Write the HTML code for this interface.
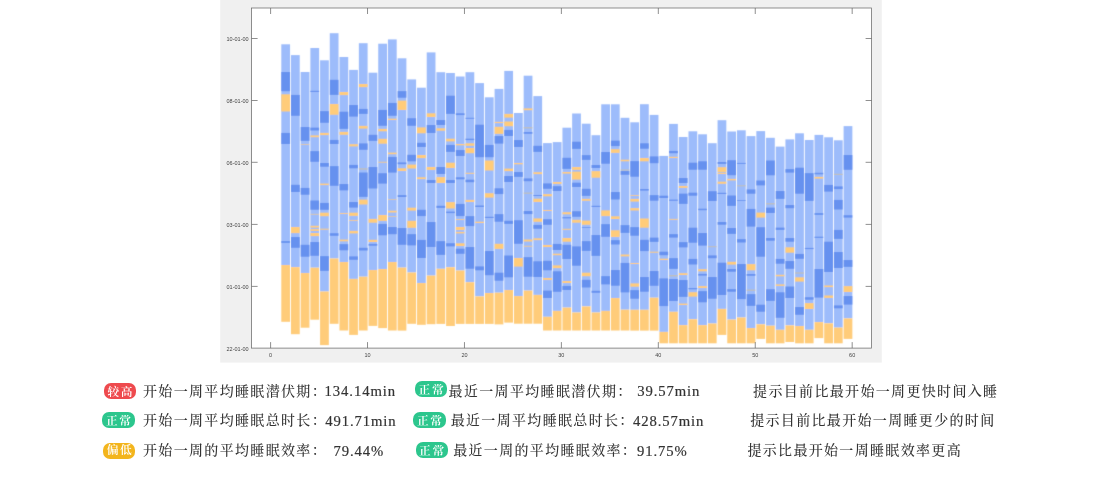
<!DOCTYPE html>
<html lang="zh-CN">
<head>
<meta charset="utf-8">
<title>睡眠报告</title>
<style>
html,body{margin:0;padding:0;background:#fff;}
body{width:1098px;height:488px;position:relative;overflow:hidden;font-family:"Liberation Serif","Noto Serif CJK SC",serif;color:#333;}
.chart{position:absolute;left:0;top:0;display:block;}
.t{position:absolute;white-space:pre;font-weight:500;font-size:14px;letter-spacing:1.33px;line-height:20px;height:20px;}
.b{position:absolute;box-sizing:border-box;height:16px;width:32.2px;border-radius:7px;color:#fff;font-weight:600;font-size:11.7px;letter-spacing:1.6px;padding-left:1.6px;padding-top:1.7px;line-height:16px;text-align:center;white-space:nowrap;}
.r{background:#ee4a4e;}
.g{background:#2cc68d;}
.y{background:#f3b51d;}
.n{position:absolute;margin-top:-0.5px;-webkit-text-stroke:0.2px #333;white-space:pre;font-size:14.7px;letter-spacing:0.9px;line-height:20px;height:20px;}
</style>
</head>
<body>
<svg class="chart" width="1098" height="488" viewBox="0 0 1098 488">
<rect x="220.2" y="0" width="661.6" height="362.6" fill="#f0f0f0"/>
<rect x="251.6" y="8.0" width="620" height="340.1" fill="#fff"/>
<defs><filter id="sf" x="-2%" y="-2%" width="104%" height="104%"><feConvolveMatrix order="3" kernelMatrix="0.0144 0.0912 0.0144 0.0912 0.5776 0.0912 0.0144 0.0912 0.0144" divisor="1" edgeMode="none" preserveAlpha="false"/></filter></defs>
<g filter="url(#sf)">
<rect x="281.3" y="44.3" width="8.75" height="220.7" fill="#9dbcfb"/>
<rect x="281.3" y="265" width="8.75" height="56.8" fill="#ffcc7a"/>
<rect x="281.3" y="72" width="8.75" height="19.2" fill="#6691ef"/>
<rect x="281.3" y="94.3" width="8.75" height="17.2" fill="#ffcc7a"/>
<rect x="281.3" y="132.9" width="8.75" height="11.1" fill="#6691ef"/>
<rect x="281.3" y="241.1" width="8.75" height="1.8" fill="#6691ef"/>
<rect x="290.99" y="55.1" width="8.75" height="212" fill="#9dbcfb"/>
<rect x="290.99" y="267.1" width="8.75" height="67.1" fill="#ffcc7a"/>
<rect x="290.99" y="94.9" width="8.75" height="20.9" fill="#6691ef"/>
<rect x="290.99" y="184.8" width="8.75" height="7.2" fill="#6691ef"/>
<rect x="290.99" y="227" width="8.75" height="6.1" fill="#ffcc7a"/>
<rect x="290.99" y="237" width="8.75" height="10.8" fill="#6691ef"/>
<rect x="300.69" y="72" width="8.75" height="201" fill="#9dbcfb"/>
<rect x="300.69" y="273" width="8.75" height="54.7" fill="#ffcc7a"/>
<rect x="300.69" y="127" width="8.75" height="13.9" fill="#6691ef"/>
<rect x="300.69" y="144.2" width="8.75" height="0.6" fill="#ffcc7a"/>
<rect x="300.69" y="187.9" width="8.75" height="6.8" fill="#6691ef"/>
<rect x="300.69" y="244.8" width="8.75" height="11.9" fill="#6691ef"/>
<rect x="310.38" y="48" width="8.75" height="219.7" fill="#9dbcfb"/>
<rect x="310.38" y="267.7" width="8.75" height="52" fill="#ffcc7a"/>
<rect x="310.38" y="90.8" width="8.75" height="1.2" fill="#6691ef"/>
<rect x="310.38" y="127.6" width="8.75" height="2.9" fill="#6691ef"/>
<rect x="310.38" y="135.4" width="8.75" height="1.8" fill="#ffcc7a"/>
<rect x="310.38" y="151.1" width="8.75" height="10.7" fill="#6691ef"/>
<rect x="310.38" y="200.5" width="8.75" height="9.2" fill="#6691ef"/>
<rect x="310.38" y="213.9" width="8.75" height="0.6" fill="#ffcc7a"/>
<rect x="310.38" y="225.8" width="8.75" height="1.8" fill="#ffcc7a"/>
<rect x="310.38" y="229.1" width="8.75" height="1.8" fill="#ffcc7a"/>
<rect x="310.38" y="233" width="8.75" height="3.1" fill="#ffcc7a"/>
<rect x="310.38" y="242" width="8.75" height="13.8" fill="#6691ef"/>
<rect x="320.08" y="60.3" width="8.75" height="231.2" fill="#9dbcfb"/>
<rect x="320.08" y="291.5" width="8.75" height="53.6" fill="#ffcc7a"/>
<rect x="320.08" y="111.1" width="8.75" height="11.7" fill="#6691ef"/>
<rect x="320.08" y="132.9" width="8.75" height="2.2" fill="#ffcc7a"/>
<rect x="320.08" y="163" width="8.75" height="3.7" fill="#6691ef"/>
<rect x="320.08" y="183.6" width="8.75" height="1.5" fill="#ffcc7a"/>
<rect x="320.08" y="202.9" width="8.75" height="6.9" fill="#6691ef"/>
<rect x="320.08" y="212.7" width="8.75" height="3.5" fill="#ffcc7a"/>
<rect x="320.08" y="228.7" width="8.75" height="1" fill="#ffcc7a"/>
<rect x="320.08" y="256.1" width="8.75" height="14.8" fill="#6691ef"/>
<rect x="329.77" y="33.2" width="8.75" height="225.3" fill="#9dbcfb"/>
<rect x="329.77" y="258.5" width="8.75" height="65.3" fill="#ffcc7a"/>
<rect x="329.77" y="79.8" width="8.75" height="15.1" fill="#6691ef"/>
<rect x="329.77" y="104" width="8.75" height="10.8" fill="#ffcc7a"/>
<rect x="329.77" y="139.9" width="8.75" height="4.1" fill="#6691ef"/>
<rect x="329.77" y="166.1" width="8.75" height="19.7" fill="#6691ef"/>
<rect x="329.77" y="233.2" width="8.75" height="2.6" fill="#6691ef"/>
<rect x="339.47" y="57" width="8.75" height="205" fill="#9dbcfb"/>
<rect x="339.47" y="262" width="8.75" height="68.5" fill="#ffcc7a"/>
<rect x="339.47" y="92" width="8.75" height="3.1" fill="#ffcc7a"/>
<rect x="339.47" y="111.7" width="8.75" height="17.2" fill="#6691ef"/>
<rect x="339.47" y="131.9" width="8.75" height="2.9" fill="#ffcc7a"/>
<rect x="339.47" y="184" width="8.75" height="6.4" fill="#6691ef"/>
<rect x="339.47" y="213.1" width="8.75" height="0.9" fill="#ffcc7a"/>
<rect x="339.47" y="239.6" width="8.75" height="1.7" fill="#ffcc7a"/>
<rect x="339.47" y="244.1" width="8.75" height="6.2" fill="#6691ef"/>
<rect x="349.16" y="69.9" width="8.75" height="209" fill="#9dbcfb"/>
<rect x="349.16" y="278.9" width="8.75" height="56" fill="#ffcc7a"/>
<rect x="349.16" y="105" width="8.75" height="11.6" fill="#6691ef"/>
<rect x="349.16" y="144.2" width="8.75" height="2.2" fill="#ffcc7a"/>
<rect x="349.16" y="164.9" width="8.75" height="3.4" fill="#6691ef"/>
<rect x="349.16" y="202" width="8.75" height="5.6" fill="#6691ef"/>
<rect x="349.16" y="212.7" width="8.75" height="3.2" fill="#ffcc7a"/>
<rect x="349.16" y="220.1" width="8.75" height="0.8" fill="#ffcc7a"/>
<rect x="349.16" y="230.9" width="8.75" height="2.5" fill="#ffcc7a"/>
<rect x="349.16" y="256.4" width="8.75" height="3.4" fill="#6691ef"/>
<rect x="358.86" y="43.2" width="8.75" height="233.5" fill="#9dbcfb"/>
<rect x="358.86" y="276.7" width="8.75" height="53.8" fill="#ffcc7a"/>
<rect x="358.86" y="84" width="8.75" height="3.1" fill="#ffcc7a"/>
<rect x="358.86" y="108.9" width="8.75" height="5" fill="#6691ef"/>
<rect x="358.86" y="125.9" width="8.75" height="2.7" fill="#ffcc7a"/>
<rect x="358.86" y="143.4" width="8.75" height="6.4" fill="#6691ef"/>
<rect x="358.86" y="168.3" width="8.75" height="1.3" fill="#c4bfb4"/>
<rect x="358.86" y="172.5" width="8.75" height="24.4" fill="#6691ef"/>
<rect x="358.86" y="199.6" width="8.75" height="4.9" fill="#ffcc7a"/>
<rect x="358.86" y="247.8" width="8.75" height="2.7" fill="#6691ef"/>
<rect x="368.55" y="72.7" width="8.75" height="197.3" fill="#9dbcfb"/>
<rect x="368.55" y="270" width="8.75" height="55.9" fill="#ffcc7a"/>
<rect x="368.55" y="134.8" width="8.75" height="6.1" fill="#6691ef"/>
<rect x="368.55" y="167" width="8.75" height="21.5" fill="#6691ef"/>
<rect x="368.55" y="218.9" width="8.75" height="3.8" fill="#ffcc7a"/>
<rect x="368.55" y="239.8" width="8.75" height="2.2" fill="#ffcc7a"/>
<rect x="368.55" y="243.9" width="8.75" height="1.8" fill="#6691ef"/>
<rect x="378.25" y="43.7" width="8.75" height="225.3" fill="#9dbcfb"/>
<rect x="378.25" y="269" width="8.75" height="59.1" fill="#ffcc7a"/>
<rect x="378.25" y="109.9" width="8.75" height="15.9" fill="#6691ef"/>
<rect x="378.25" y="128.9" width="8.75" height="2.4" fill="#ffcc7a"/>
<rect x="378.25" y="138.8" width="8.75" height="4.9" fill="#ffcc7a"/>
<rect x="378.25" y="161.8" width="8.75" height="0.8" fill="#ffcc7a"/>
<rect x="378.25" y="173.2" width="8.75" height="10.4" fill="#6691ef"/>
<rect x="378.25" y="215" width="8.75" height="5.9" fill="#ffcc7a"/>
<rect x="378.25" y="223.9" width="8.75" height="11.4" fill="#6691ef"/>
<rect x="387.94" y="39.4" width="8.75" height="222.6" fill="#9dbcfb"/>
<rect x="387.94" y="262" width="8.75" height="68.5" fill="#ffcc7a"/>
<rect x="387.94" y="102.9" width="8.75" height="12.9" fill="#6691ef"/>
<rect x="387.94" y="118.7" width="8.75" height="1.3" fill="#ffcc7a"/>
<rect x="387.94" y="152.6" width="8.75" height="1.6" fill="#ffcc7a"/>
<rect x="387.94" y="156.9" width="8.75" height="15.7" fill="#6691ef"/>
<rect x="387.94" y="199.3" width="8.75" height="0.6" fill="#ffcc7a"/>
<rect x="387.94" y="210.7" width="8.75" height="1.8" fill="#ffcc7a"/>
<rect x="387.94" y="216.1" width="8.75" height="0.6" fill="#ffcc7a"/>
<rect x="387.94" y="227" width="8.75" height="7.2" fill="#6691ef"/>
<rect x="397.63" y="58.3" width="8.75" height="209.3" fill="#9dbcfb"/>
<rect x="397.63" y="267.6" width="8.75" height="63" fill="#ffcc7a"/>
<rect x="397.63" y="91.1" width="8.75" height="6.6" fill="#6691ef"/>
<rect x="397.63" y="100.6" width="8.75" height="9.4" fill="#ffcc7a"/>
<rect x="397.63" y="162.4" width="8.75" height="1.8" fill="#6691ef"/>
<rect x="397.63" y="168.3" width="8.75" height="2.7" fill="#ffcc7a"/>
<rect x="397.63" y="195.1" width="8.75" height="1.9" fill="#6691ef"/>
<rect x="397.63" y="228" width="8.75" height="16.8" fill="#6691ef"/>
<rect x="407.33" y="79.4" width="8.75" height="193.1" fill="#9dbcfb"/>
<rect x="407.33" y="272.5" width="8.75" height="51.3" fill="#ffcc7a"/>
<rect x="407.33" y="118.2" width="8.75" height="7.6" fill="#6691ef"/>
<rect x="407.33" y="154.8" width="8.75" height="6.5" fill="#6691ef"/>
<rect x="407.33" y="164.6" width="8.75" height="3.9" fill="#ffcc7a"/>
<rect x="407.33" y="207.7" width="8.75" height="2.9" fill="#ffcc7a"/>
<rect x="407.33" y="220.8" width="8.75" height="7" fill="#ffcc7a"/>
<rect x="407.33" y="234.1" width="8.75" height="11.3" fill="#6691ef"/>
<rect x="417.03" y="87.7" width="8.75" height="195.3" fill="#9dbcfb"/>
<rect x="417.03" y="283" width="8.75" height="41.8" fill="#ffcc7a"/>
<rect x="417.03" y="127.4" width="8.75" height="5.9" fill="#ffcc7a"/>
<rect x="417.03" y="142.8" width="8.75" height="4.2" fill="#6691ef"/>
<rect x="417.03" y="155" width="8.75" height="3.1" fill="#ffcc7a"/>
<rect x="417.03" y="177.3" width="8.75" height="1.8" fill="#ffcc7a"/>
<rect x="417.03" y="209.8" width="8.75" height="6.3" fill="#6691ef"/>
<rect x="417.03" y="239.9" width="8.75" height="18.1" fill="#6691ef"/>
<rect x="426.72" y="52.4" width="8.75" height="223.2" fill="#9dbcfb"/>
<rect x="426.72" y="275.6" width="8.75" height="48.6" fill="#ffcc7a"/>
<rect x="426.72" y="113.3" width="8.75" height="3.7" fill="#ffcc7a"/>
<rect x="426.72" y="125" width="8.75" height="8" fill="#6691ef"/>
<rect x="426.72" y="167" width="8.75" height="2.9" fill="#ffcc7a"/>
<rect x="426.72" y="180" width="8.75" height="3" fill="#6691ef"/>
<rect x="426.72" y="222" width="8.75" height="25" fill="#6691ef"/>
<rect x="436.42" y="72.2" width="8.75" height="196.6" fill="#9dbcfb"/>
<rect x="436.42" y="268.8" width="8.75" height="55.1" fill="#ffcc7a"/>
<rect x="436.42" y="120" width="8.75" height="5" fill="#6691ef"/>
<rect x="436.42" y="128.3" width="8.75" height="2.4" fill="#ffcc7a"/>
<rect x="436.42" y="167" width="8.75" height="7" fill="#6691ef"/>
<rect x="436.42" y="177.1" width="8.75" height="5.9" fill="#ffcc7a"/>
<rect x="436.42" y="205.8" width="8.75" height="2.1" fill="#6691ef"/>
<rect x="436.42" y="241.1" width="8.75" height="13.8" fill="#6691ef"/>
<rect x="446.11" y="73" width="8.75" height="194.2" fill="#9dbcfb"/>
<rect x="446.11" y="267.2" width="8.75" height="58.8" fill="#ffcc7a"/>
<rect x="446.11" y="95.7" width="8.75" height="18.2" fill="#6691ef"/>
<rect x="446.11" y="138.7" width="8.75" height="2.7" fill="#ffcc7a"/>
<rect x="446.11" y="144.9" width="8.75" height="7" fill="#6691ef"/>
<rect x="446.11" y="162.7" width="8.75" height="5.3" fill="#ffcc7a"/>
<rect x="446.11" y="180" width="8.75" height="3" fill="#6691ef"/>
<rect x="446.11" y="202.1" width="8.75" height="6.4" fill="#ffcc7a"/>
<rect x="446.11" y="211.6" width="8.75" height="1.5" fill="#6691ef"/>
<rect x="446.11" y="243.2" width="8.75" height="3.2" fill="#6691ef"/>
<rect x="455.81" y="76.5" width="8.75" height="194" fill="#9dbcfb"/>
<rect x="455.81" y="270.5" width="8.75" height="53.4" fill="#ffcc7a"/>
<rect x="455.81" y="113.3" width="8.75" height="1.8" fill="#6691ef"/>
<rect x="455.81" y="144" width="8.75" height="1.3" fill="#ffcc7a"/>
<rect x="455.81" y="150" width="8.75" height="6" fill="#6691ef"/>
<rect x="455.81" y="177.3" width="8.75" height="2" fill="#6691ef"/>
<rect x="455.81" y="203.9" width="8.75" height="12.2" fill="#6691ef"/>
<rect x="455.81" y="219.2" width="8.75" height="0.8" fill="#ffcc7a"/>
<rect x="455.81" y="227" width="8.75" height="3" fill="#ffcc7a"/>
<rect x="455.81" y="231.9" width="8.75" height="1.5" fill="#ffcc7a"/>
<rect x="455.81" y="243.3" width="8.75" height="2.7" fill="#ffcc7a"/>
<rect x="455.81" y="248.7" width="8.75" height="5.1" fill="#6691ef"/>
<rect x="465.5" y="72.2" width="8.75" height="210" fill="#9dbcfb"/>
<rect x="465.5" y="282.2" width="8.75" height="41.7" fill="#ffcc7a"/>
<rect x="465.5" y="117.8" width="8.75" height="1" fill="#6691ef"/>
<rect x="465.5" y="138.7" width="8.75" height="1.4" fill="#6691ef"/>
<rect x="465.5" y="143.3" width="8.75" height="2.5" fill="#ffcc7a"/>
<rect x="465.5" y="148" width="8.75" height="5.2" fill="#ffcc7a"/>
<rect x="465.5" y="172.8" width="8.75" height="1" fill="#ffcc7a"/>
<rect x="465.5" y="179.7" width="8.75" height="2.5" fill="#6691ef"/>
<rect x="465.5" y="199.9" width="8.75" height="2.1" fill="#ffcc7a"/>
<rect x="465.5" y="216.1" width="8.75" height="10" fill="#6691ef"/>
<rect x="465.5" y="247" width="8.75" height="21.7" fill="#6691ef"/>
<rect x="475.2" y="83.1" width="8.75" height="213.3" fill="#9dbcfb"/>
<rect x="475.2" y="296.4" width="8.75" height="27.5" fill="#ffcc7a"/>
<rect x="475.2" y="124.7" width="8.75" height="32.5" fill="#6691ef"/>
<rect x="475.2" y="205.5" width="8.75" height="1.5" fill="#6691ef"/>
<rect x="475.2" y="221.7" width="8.75" height="1.3" fill="#ffcc7a"/>
<rect x="475.2" y="266.4" width="8.75" height="3.9" fill="#6691ef"/>
<rect x="484.89" y="97.3" width="8.75" height="195.7" fill="#9dbcfb"/>
<rect x="484.89" y="293" width="8.75" height="30.9" fill="#ffcc7a"/>
<rect x="484.89" y="144.9" width="8.75" height="12.3" fill="#6691ef"/>
<rect x="484.89" y="160.5" width="8.75" height="10" fill="#ffcc7a"/>
<rect x="484.89" y="193.2" width="8.75" height="4.4" fill="#ffcc7a"/>
<rect x="484.89" y="216.8" width="8.75" height="1.2" fill="#6691ef"/>
<rect x="484.89" y="251" width="8.75" height="24.2" fill="#6691ef"/>
<rect x="494.59" y="88.9" width="8.75" height="203.8" fill="#9dbcfb"/>
<rect x="494.59" y="292.7" width="8.75" height="31.7" fill="#ffcc7a"/>
<rect x="494.59" y="121.9" width="8.75" height="1.2" fill="#ffcc7a"/>
<rect x="494.59" y="126.8" width="8.75" height="7.1" fill="#ffcc7a"/>
<rect x="494.59" y="136" width="8.75" height="7.6" fill="#6691ef"/>
<rect x="494.59" y="188.3" width="8.75" height="5.8" fill="#6691ef"/>
<rect x="494.59" y="214.1" width="8.75" height="7.6" fill="#6691ef"/>
<rect x="494.59" y="243.8" width="8.75" height="5.1" fill="#ffcc7a"/>
<rect x="494.59" y="272.7" width="8.75" height="8" fill="#6691ef"/>
<rect x="504.28" y="70.9" width="8.75" height="219.1" fill="#9dbcfb"/>
<rect x="504.28" y="290" width="8.75" height="32.6" fill="#ffcc7a"/>
<rect x="504.28" y="113.9" width="8.75" height="3.7" fill="#ffcc7a"/>
<rect x="504.28" y="121.5" width="8.75" height="4.7" fill="#ffcc7a"/>
<rect x="504.28" y="129.9" width="8.75" height="6.1" fill="#6691ef"/>
<rect x="504.28" y="168.6" width="8.75" height="2.5" fill="#ffcc7a"/>
<rect x="504.28" y="176" width="8.75" height="6" fill="#6691ef"/>
<rect x="504.28" y="220.8" width="8.75" height="3.1" fill="#6691ef"/>
<rect x="504.28" y="255.5" width="8.75" height="21.8" fill="#6691ef"/>
<rect x="513.98" y="113" width="8.75" height="183" fill="#9dbcfb"/>
<rect x="513.98" y="296" width="8.75" height="27.7" fill="#ffcc7a"/>
<rect x="513.98" y="140" width="8.75" height="7" fill="#6691ef"/>
<rect x="513.98" y="163" width="8.75" height="1.3" fill="#ffcc7a"/>
<rect x="513.98" y="172" width="8.75" height="4.9" fill="#6691ef"/>
<rect x="513.98" y="220.2" width="8.75" height="23.6" fill="#6691ef"/>
<rect x="513.98" y="258" width="8.75" height="8.6" fill="#ffcc7a"/>
<rect x="523.67" y="75.7" width="8.75" height="214.9" fill="#9dbcfb"/>
<rect x="523.67" y="290.6" width="8.75" height="33.1" fill="#ffcc7a"/>
<rect x="523.67" y="108.4" width="8.75" height="1.8" fill="#ffcc7a"/>
<rect x="523.67" y="127.2" width="8.75" height="1.2" fill="#c4bfb4"/>
<rect x="523.67" y="132" width="8.75" height="1.8" fill="#6691ef"/>
<rect x="523.67" y="178.4" width="8.75" height="2.8" fill="#6691ef"/>
<rect x="523.67" y="192.6" width="8.75" height="1.1" fill="#c4bfb4"/>
<rect x="523.67" y="211" width="8.75" height="3.1" fill="#6691ef"/>
<rect x="523.67" y="239.5" width="8.75" height="2" fill="#ffcc7a"/>
<rect x="523.67" y="245.8" width="8.75" height="0.8" fill="#ffcc7a"/>
<rect x="523.67" y="257.1" width="8.75" height="19.6" fill="#6691ef"/>
<rect x="533.37" y="96.1" width="8.75" height="198.8" fill="#9dbcfb"/>
<rect x="533.37" y="294.9" width="8.75" height="28.8" fill="#ffcc7a"/>
<rect x="533.37" y="145.8" width="8.75" height="6.1" fill="#6691ef"/>
<rect x="533.37" y="172.2" width="8.75" height="1.9" fill="#ffcc7a"/>
<rect x="533.37" y="195" width="8.75" height="1" fill="#6691ef"/>
<rect x="533.37" y="198.7" width="8.75" height="3.3" fill="#ffcc7a"/>
<rect x="533.37" y="218.4" width="8.75" height="3.4" fill="#ffcc7a"/>
<rect x="533.37" y="224.9" width="8.75" height="3.9" fill="#6691ef"/>
<rect x="533.37" y="238.3" width="8.75" height="1.8" fill="#ffcc7a"/>
<rect x="533.37" y="261.3" width="8.75" height="15.7" fill="#6691ef"/>
<rect x="543.06" y="143.1" width="8.75" height="173.7" fill="#9dbcfb"/>
<rect x="543.06" y="316.8" width="8.75" height="13.7" fill="#ffcc7a"/>
<rect x="543.06" y="183.4" width="8.75" height="5.4" fill="#6691ef"/>
<rect x="543.06" y="194.1" width="8.75" height="2.2" fill="#ffcc7a"/>
<rect x="543.06" y="210" width="8.75" height="1" fill="#ffcc7a"/>
<rect x="543.06" y="219.2" width="8.75" height="5.6" fill="#6691ef"/>
<rect x="543.06" y="245" width="8.75" height="2" fill="#ffcc7a"/>
<rect x="543.06" y="260.8" width="8.75" height="9.5" fill="#6691ef"/>
<rect x="543.06" y="278" width="8.75" height="1.9" fill="#ffcc7a"/>
<rect x="543.06" y="290.6" width="8.75" height="7.4" fill="#6691ef"/>
<rect x="552.76" y="142.1" width="8.75" height="168.8" fill="#9dbcfb"/>
<rect x="552.76" y="310.9" width="8.75" height="19.6" fill="#ffcc7a"/>
<rect x="552.76" y="182" width="8.75" height="1.9" fill="#ffcc7a"/>
<rect x="552.76" y="186.1" width="8.75" height="4.9" fill="#6691ef"/>
<rect x="552.76" y="243.9" width="8.75" height="6.1" fill="#6691ef"/>
<rect x="552.76" y="253.7" width="8.75" height="1.5" fill="#ffcc7a"/>
<rect x="552.76" y="265.4" width="8.75" height="2.7" fill="#ffcc7a"/>
<rect x="552.76" y="271.3" width="8.75" height="20.5" fill="#6691ef"/>
<rect x="562.45" y="127.7" width="8.75" height="179.9" fill="#9dbcfb"/>
<rect x="562.45" y="307.6" width="8.75" height="22.9" fill="#ffcc7a"/>
<rect x="562.45" y="157.8" width="8.75" height="11.1" fill="#6691ef"/>
<rect x="562.45" y="172" width="8.75" height="1.6" fill="#ffcc7a"/>
<rect x="562.45" y="212.2" width="8.75" height="2.1" fill="#ffcc7a"/>
<rect x="562.45" y="217.1" width="8.75" height="1.3" fill="#6691ef"/>
<rect x="562.45" y="228.8" width="8.75" height="1" fill="#ffcc7a"/>
<rect x="562.45" y="238" width="8.75" height="3.7" fill="#ffcc7a"/>
<rect x="562.45" y="244.8" width="8.75" height="14.2" fill="#6691ef"/>
<rect x="562.45" y="281" width="8.75" height="2" fill="#ffcc7a"/>
<rect x="562.45" y="285.9" width="8.75" height="4.1" fill="#6691ef"/>
<rect x="572.14" y="113.5" width="8.75" height="199" fill="#9dbcfb"/>
<rect x="572.14" y="312.5" width="8.75" height="18" fill="#ffcc7a"/>
<rect x="572.14" y="141.7" width="8.75" height="7.2" fill="#6691ef"/>
<rect x="572.14" y="167" width="8.75" height="2.9" fill="#ffcc7a"/>
<rect x="572.14" y="171.6" width="8.75" height="8" fill="#ffcc7a"/>
<rect x="572.14" y="182.7" width="8.75" height="4.3" fill="#6691ef"/>
<rect x="572.14" y="211.2" width="8.75" height="5.6" fill="#6691ef"/>
<rect x="572.14" y="219.8" width="8.75" height="2.9" fill="#ffcc7a"/>
<rect x="572.14" y="246.4" width="8.75" height="19.3" fill="#6691ef"/>
<rect x="581.84" y="123.7" width="8.75" height="182.7" fill="#9dbcfb"/>
<rect x="581.84" y="306.4" width="8.75" height="24.1" fill="#ffcc7a"/>
<rect x="581.84" y="155.1" width="8.75" height="4.8" fill="#6691ef"/>
<rect x="581.84" y="188.8" width="8.75" height="7.1" fill="#6691ef"/>
<rect x="581.84" y="198.9" width="8.75" height="1.9" fill="#ffcc7a"/>
<rect x="581.84" y="220.6" width="8.75" height="4.2" fill="#ffcc7a"/>
<rect x="581.84" y="227" width="8.75" height="0.8" fill="#6691ef"/>
<rect x="581.84" y="241.1" width="8.75" height="9.8" fill="#6691ef"/>
<rect x="581.84" y="272.7" width="8.75" height="3.5" fill="#ffcc7a"/>
<rect x="581.84" y="279.8" width="8.75" height="7.7" fill="#6691ef"/>
<rect x="591.54" y="135.2" width="8.75" height="177.3" fill="#9dbcfb"/>
<rect x="591.54" y="312.5" width="8.75" height="18" fill="#ffcc7a"/>
<rect x="591.54" y="165" width="8.75" height="3" fill="#6691ef"/>
<rect x="591.54" y="171.1" width="8.75" height="6.6" fill="#ffcc7a"/>
<rect x="591.54" y="205.8" width="8.75" height="1.2" fill="#6691ef"/>
<rect x="591.54" y="235" width="8.75" height="20.9" fill="#6691ef"/>
<rect x="591.54" y="290.8" width="8.75" height="2" fill="#6691ef"/>
<rect x="601.23" y="104.3" width="8.75" height="206.6" fill="#9dbcfb"/>
<rect x="601.23" y="310.9" width="8.75" height="19.6" fill="#ffcc7a"/>
<rect x="601.23" y="152" width="8.75" height="11.7" fill="#6691ef"/>
<rect x="601.23" y="210.4" width="8.75" height="5.7" fill="#ffcc7a"/>
<rect x="601.23" y="224.1" width="8.75" height="12.7" fill="#6691ef"/>
<rect x="601.23" y="276.1" width="8.75" height="8.3" fill="#6691ef"/>
<rect x="610.92" y="104.3" width="8.75" height="193.7" fill="#9dbcfb"/>
<rect x="610.92" y="298" width="8.75" height="32.5" fill="#ffcc7a"/>
<rect x="610.92" y="140.6" width="8.75" height="5.5" fill="#6691ef"/>
<rect x="610.92" y="149.2" width="8.75" height="3.7" fill="#ffcc7a"/>
<rect x="610.92" y="192" width="8.75" height="7.5" fill="#6691ef"/>
<rect x="610.92" y="216.3" width="8.75" height="2.7" fill="#ffcc7a"/>
<rect x="610.92" y="230.3" width="8.75" height="6.7" fill="#ffcc7a"/>
<rect x="610.92" y="240.1" width="8.75" height="4.4" fill="#6691ef"/>
<rect x="610.92" y="270" width="8.75" height="15.7" fill="#6691ef"/>
<rect x="620.62" y="117.8" width="8.75" height="191.9" fill="#9dbcfb"/>
<rect x="620.62" y="309.7" width="8.75" height="20.8" fill="#ffcc7a"/>
<rect x="620.62" y="159.7" width="8.75" height="1.6" fill="#ffcc7a"/>
<rect x="620.62" y="169.5" width="8.75" height="1" fill="#c4bfb4"/>
<rect x="620.62" y="171" width="8.75" height="3.8" fill="#6691ef"/>
<rect x="620.62" y="225.1" width="8.75" height="7.8" fill="#6691ef"/>
<rect x="620.62" y="254.5" width="8.75" height="1.9" fill="#ffcc7a"/>
<rect x="620.62" y="262.9" width="8.75" height="29.5" fill="#6691ef"/>
<rect x="630.32" y="122.3" width="8.75" height="187.5" fill="#9dbcfb"/>
<rect x="630.32" y="309.8" width="8.75" height="20.8" fill="#ffcc7a"/>
<rect x="630.32" y="161.1" width="8.75" height="15.6" fill="#6691ef"/>
<rect x="630.32" y="195.1" width="8.75" height="0.8" fill="#ffcc7a"/>
<rect x="630.32" y="198.9" width="8.75" height="2.7" fill="#ffcc7a"/>
<rect x="630.32" y="208.1" width="8.75" height="2.4" fill="#ffcc7a"/>
<rect x="630.32" y="227.1" width="8.75" height="8.6" fill="#6691ef"/>
<rect x="630.32" y="263" width="8.75" height="1" fill="#ffcc7a"/>
<rect x="630.32" y="283.4" width="8.75" height="3.3" fill="#ffcc7a"/>
<rect x="630.32" y="290.1" width="8.75" height="8.6" fill="#6691ef"/>
<rect x="640.01" y="104.2" width="8.75" height="205.6" fill="#9dbcfb"/>
<rect x="640.01" y="309.8" width="8.75" height="20.8" fill="#ffcc7a"/>
<rect x="640.01" y="143.3" width="8.75" height="5.4" fill="#6691ef"/>
<rect x="640.01" y="158" width="8.75" height="3.3" fill="#ffcc7a"/>
<rect x="640.01" y="189" width="8.75" height="1.6" fill="#6691ef"/>
<rect x="640.01" y="218.5" width="8.75" height="9.2" fill="#ffcc7a"/>
<rect x="640.01" y="239.8" width="8.75" height="11.3" fill="#6691ef"/>
<rect x="640.01" y="277" width="8.75" height="14.7" fill="#6691ef"/>
<rect x="649.71" y="114.9" width="8.75" height="182.8" fill="#9dbcfb"/>
<rect x="649.71" y="297.7" width="8.75" height="32.9" fill="#ffcc7a"/>
<rect x="649.71" y="156.4" width="8.75" height="6.8" fill="#6691ef"/>
<rect x="649.71" y="195.1" width="8.75" height="5.6" fill="#6691ef"/>
<rect x="649.71" y="237.6" width="8.75" height="4.3" fill="#6691ef"/>
<rect x="649.71" y="251.7" width="8.75" height="1" fill="#ffcc7a"/>
<rect x="649.71" y="271" width="8.75" height="14.8" fill="#6691ef"/>
<rect x="659.4" y="155.9" width="8.75" height="176" fill="#9dbcfb"/>
<rect x="659.4" y="331.9" width="8.75" height="11.4" fill="#ffcc7a"/>
<rect x="659.4" y="195.7" width="8.75" height="2.3" fill="#6691ef"/>
<rect x="659.4" y="251.7" width="8.75" height="3.5" fill="#6691ef"/>
<rect x="659.4" y="258.7" width="8.75" height="1.3" fill="#ffcc7a"/>
<rect x="659.4" y="278.4" width="8.75" height="27.7" fill="#6691ef"/>
<rect x="669.1" y="123.9" width="8.75" height="187.9" fill="#9dbcfb"/>
<rect x="669.1" y="311.8" width="8.75" height="31.5" fill="#ffcc7a"/>
<rect x="669.1" y="150.9" width="8.75" height="2.3" fill="#6691ef"/>
<rect x="669.1" y="156.8" width="8.75" height="1.2" fill="#ffcc7a"/>
<rect x="669.1" y="199.6" width="8.75" height="1.2" fill="#6691ef"/>
<rect x="669.1" y="218.9" width="8.75" height="0.9" fill="#ffcc7a"/>
<rect x="669.1" y="234.1" width="8.75" height="3.5" fill="#6691ef"/>
<rect x="669.1" y="258.1" width="8.75" height="10.8" fill="#6691ef"/>
<rect x="669.1" y="275.1" width="8.75" height="1.3" fill="#c4bfb4"/>
<rect x="669.1" y="279" width="8.75" height="22" fill="#6691ef"/>
<rect x="678.79" y="137" width="8.75" height="188.1" fill="#9dbcfb"/>
<rect x="678.79" y="325.1" width="8.75" height="18.2" fill="#ffcc7a"/>
<rect x="678.79" y="178" width="8.75" height="5" fill="#6691ef"/>
<rect x="678.79" y="186" width="8.75" height="1.9" fill="#ffcc7a"/>
<rect x="678.79" y="193.6" width="8.75" height="10.3" fill="#6691ef"/>
<rect x="678.79" y="242.1" width="8.75" height="5.3" fill="#6691ef"/>
<rect x="678.79" y="273.2" width="8.75" height="1.8" fill="#ffcc7a"/>
<rect x="678.79" y="280" width="8.75" height="16.9" fill="#6691ef"/>
<rect x="678.79" y="303.6" width="8.75" height="1.4" fill="#ffcc7a"/>
<rect x="688.49" y="131.3" width="8.75" height="187.9" fill="#9dbcfb"/>
<rect x="688.49" y="319.2" width="8.75" height="24.1" fill="#ffcc7a"/>
<rect x="688.49" y="162.7" width="8.75" height="7" fill="#6691ef"/>
<rect x="688.49" y="192.7" width="8.75" height="3" fill="#6691ef"/>
<rect x="688.49" y="227.7" width="8.75" height="15" fill="#6691ef"/>
<rect x="688.49" y="258.9" width="8.75" height="5.6" fill="#6691ef"/>
<rect x="688.49" y="288" width="8.75" height="1.3" fill="#6691ef"/>
<rect x="688.49" y="292.2" width="8.75" height="4.4" fill="#ffcc7a"/>
<rect x="698.18" y="134.3" width="8.75" height="190.8" fill="#9dbcfb"/>
<rect x="698.18" y="325.1" width="8.75" height="18.2" fill="#ffcc7a"/>
<rect x="698.18" y="161.3" width="8.75" height="8.4" fill="#6691ef"/>
<rect x="698.18" y="208.7" width="8.75" height="1.5" fill="#6691ef"/>
<rect x="698.18" y="233" width="8.75" height="12.6" fill="#6691ef"/>
<rect x="698.18" y="269.2" width="8.75" height="2.1" fill="#ffcc7a"/>
<rect x="698.18" y="273.9" width="8.75" height="1.7" fill="#6691ef"/>
<rect x="698.18" y="286.1" width="8.75" height="1.9" fill="#ffcc7a"/>
<rect x="698.18" y="291.1" width="8.75" height="11.2" fill="#6691ef"/>
<rect x="707.88" y="143.2" width="8.75" height="180.3" fill="#9dbcfb"/>
<rect x="707.88" y="323.5" width="8.75" height="19.8" fill="#ffcc7a"/>
<rect x="707.88" y="191.2" width="8.75" height="9.8" fill="#6691ef"/>
<rect x="707.88" y="246.2" width="8.75" height="1" fill="#c4bfb4"/>
<rect x="707.88" y="255.4" width="8.75" height="2.8" fill="#6691ef"/>
<rect x="707.88" y="277" width="8.75" height="21.7" fill="#6691ef"/>
<rect x="717.57" y="120.2" width="8.75" height="188.7" fill="#9dbcfb"/>
<rect x="717.57" y="308.9" width="8.75" height="26" fill="#ffcc7a"/>
<rect x="717.57" y="162" width="8.75" height="1.9" fill="#6691ef"/>
<rect x="717.57" y="167.2" width="8.75" height="4.7" fill="#ffcc7a"/>
<rect x="717.57" y="172.7" width="8.75" height="1.3" fill="#ffcc7a"/>
<rect x="717.57" y="181.7" width="8.75" height="2.1" fill="#ffcc7a"/>
<rect x="717.57" y="192.8" width="8.75" height="1.2" fill="#6691ef"/>
<rect x="717.57" y="222" width="8.75" height="2.7" fill="#6691ef"/>
<rect x="717.57" y="262.7" width="8.75" height="32.3" fill="#6691ef"/>
<rect x="727.27" y="131.5" width="8.75" height="188.1" fill="#9dbcfb"/>
<rect x="727.27" y="319.6" width="8.75" height="23.7" fill="#ffcc7a"/>
<rect x="727.27" y="160.2" width="8.75" height="15" fill="#6691ef"/>
<rect x="727.27" y="178.9" width="8.75" height="1.5" fill="#ffcc7a"/>
<rect x="727.27" y="195.5" width="8.75" height="10.4" fill="#6691ef"/>
<rect x="727.27" y="228" width="8.75" height="5.9" fill="#6691ef"/>
<rect x="727.27" y="261.8" width="8.75" height="2.8" fill="#ffcc7a"/>
<rect x="727.27" y="269" width="8.75" height="2.7" fill="#6691ef"/>
<rect x="727.27" y="289.1" width="8.75" height="2.6" fill="#6691ef"/>
<rect x="736.96" y="130.3" width="8.75" height="187.2" fill="#9dbcfb"/>
<rect x="736.96" y="317.5" width="8.75" height="25.8" fill="#ffcc7a"/>
<rect x="736.96" y="162.9" width="8.75" height="1" fill="#6691ef"/>
<rect x="736.96" y="185.3" width="8.75" height="1" fill="#c4bfb4"/>
<rect x="736.96" y="200" width="8.75" height="0.8" fill="#6691ef"/>
<rect x="736.96" y="239.1" width="8.75" height="3.4" fill="#6691ef"/>
<rect x="736.96" y="264" width="8.75" height="35.1" fill="#6691ef"/>
<rect x="746.65" y="136.1" width="8.75" height="191.9" fill="#9dbcfb"/>
<rect x="746.65" y="328" width="8.75" height="15.3" fill="#ffcc7a"/>
<rect x="746.65" y="189.4" width="8.75" height="4.3" fill="#6691ef"/>
<rect x="746.65" y="208.9" width="8.75" height="17.7" fill="#6691ef"/>
<rect x="746.65" y="264.1" width="8.75" height="6.2" fill="#ffcc7a"/>
<rect x="746.65" y="274" width="8.75" height="1.8" fill="#6691ef"/>
<rect x="746.65" y="289.6" width="8.75" height="1.2" fill="#c4bfb4"/>
<rect x="746.65" y="294.1" width="8.75" height="11.8" fill="#6691ef"/>
<rect x="756.35" y="131.1" width="8.75" height="193.2" fill="#9dbcfb"/>
<rect x="756.35" y="324.3" width="8.75" height="14.6" fill="#ffcc7a"/>
<rect x="756.35" y="180.5" width="8.75" height="4.9" fill="#6691ef"/>
<rect x="756.35" y="212.6" width="8.75" height="5" fill="#ffcc7a"/>
<rect x="756.35" y="227.2" width="8.75" height="29.5" fill="#6691ef"/>
<rect x="756.35" y="304.7" width="8.75" height="7" fill="#6691ef"/>
<rect x="766.05" y="137.8" width="8.75" height="187.9" fill="#9dbcfb"/>
<rect x="766.05" y="325.7" width="8.75" height="17.6" fill="#ffcc7a"/>
<rect x="766.05" y="160.5" width="8.75" height="14.8" fill="#6691ef"/>
<rect x="766.05" y="203.2" width="8.75" height="1.2" fill="#c4bfb4"/>
<rect x="766.05" y="207.6" width="8.75" height="5.4" fill="#6691ef"/>
<rect x="766.05" y="238" width="8.75" height="2.7" fill="#6691ef"/>
<rect x="766.05" y="289.2" width="8.75" height="11.7" fill="#6691ef"/>
<rect x="775.74" y="146.6" width="8.75" height="183.2" fill="#9dbcfb"/>
<rect x="775.74" y="329.8" width="8.75" height="13.5" fill="#ffcc7a"/>
<rect x="775.74" y="191" width="8.75" height="7.9" fill="#6691ef"/>
<rect x="775.74" y="227.6" width="8.75" height="2.3" fill="#6691ef"/>
<rect x="775.74" y="258.9" width="8.75" height="4.8" fill="#6691ef"/>
<rect x="775.74" y="274.8" width="8.75" height="1.5" fill="#ffcc7a"/>
<rect x="775.74" y="284.4" width="8.75" height="1.5" fill="#ffcc7a"/>
<rect x="775.74" y="292.3" width="8.75" height="25.5" fill="#6691ef"/>
<rect x="785.44" y="139.4" width="8.75" height="186" fill="#9dbcfb"/>
<rect x="785.44" y="325.4" width="8.75" height="16.6" fill="#ffcc7a"/>
<rect x="785.44" y="169.1" width="8.75" height="3.5" fill="#6691ef"/>
<rect x="785.44" y="205" width="8.75" height="3.2" fill="#6691ef"/>
<rect x="785.44" y="238" width="8.75" height="3.7" fill="#6691ef"/>
<rect x="785.44" y="247.3" width="8.75" height="5.4" fill="#ffcc7a"/>
<rect x="785.44" y="261" width="8.75" height="7.8" fill="#6691ef"/>
<rect x="785.44" y="286.5" width="8.75" height="11.5" fill="#6691ef"/>
<rect x="795.13" y="133.3" width="8.75" height="192.7" fill="#9dbcfb"/>
<rect x="795.13" y="326" width="8.75" height="17.3" fill="#ffcc7a"/>
<rect x="795.13" y="167.7" width="8.75" height="26" fill="#6691ef"/>
<rect x="795.13" y="253.9" width="8.75" height="4.9" fill="#6691ef"/>
<rect x="795.13" y="272.4" width="8.75" height="1.2" fill="#c4bfb4"/>
<rect x="795.13" y="277.3" width="8.75" height="4.3" fill="#ffcc7a"/>
<rect x="795.13" y="307" width="8.75" height="7.8" fill="#6691ef"/>
<rect x="804.83" y="140" width="8.75" height="189.8" fill="#9dbcfb"/>
<rect x="804.83" y="329.8" width="8.75" height="13.5" fill="#ffcc7a"/>
<rect x="804.83" y="173.1" width="8.75" height="27.8" fill="#6691ef"/>
<rect x="804.83" y="247.9" width="8.75" height="1.2" fill="#6691ef"/>
<rect x="804.83" y="297.2" width="8.75" height="2.5" fill="#6691ef"/>
<rect x="804.83" y="303.1" width="8.75" height="5.9" fill="#ffcc7a"/>
<rect x="814.52" y="134.9" width="8.75" height="187.2" fill="#9dbcfb"/>
<rect x="814.52" y="322.1" width="8.75" height="16" fill="#ffcc7a"/>
<rect x="814.52" y="172.8" width="8.75" height="1.5" fill="#6691ef"/>
<rect x="814.52" y="176.9" width="8.75" height="1.7" fill="#ffcc7a"/>
<rect x="814.52" y="213.1" width="8.75" height="1.8" fill="#6691ef"/>
<rect x="814.52" y="236.7" width="8.75" height="1.2" fill="#6691ef"/>
<rect x="814.52" y="269" width="8.75" height="28.6" fill="#6691ef"/>
<rect x="824.22" y="137.3" width="8.75" height="186" fill="#9dbcfb"/>
<rect x="824.22" y="323.3" width="8.75" height="20" fill="#ffcc7a"/>
<rect x="824.22" y="184.9" width="8.75" height="6.7" fill="#6691ef"/>
<rect x="824.22" y="241.7" width="8.75" height="30.3" fill="#6691ef"/>
<rect x="824.22" y="285.5" width="8.75" height="1.6" fill="#ffcc7a"/>
<rect x="824.22" y="295.5" width="8.75" height="2.4" fill="#ffcc7a"/>
<rect x="833.91" y="140.3" width="8.75" height="187.3" fill="#9dbcfb"/>
<rect x="833.91" y="327.6" width="8.75" height="15.7" fill="#ffcc7a"/>
<rect x="833.91" y="173.8" width="8.75" height="1.1" fill="#c4bfb4"/>
<rect x="833.91" y="186.4" width="8.75" height="2.7" fill="#6691ef"/>
<rect x="833.91" y="199.9" width="8.75" height="9.6" fill="#6691ef"/>
<rect x="833.91" y="229.9" width="8.75" height="9" fill="#6691ef"/>
<rect x="833.91" y="252" width="8.75" height="16" fill="#6691ef"/>
<rect x="833.91" y="305.4" width="8.75" height="2.9" fill="#6691ef"/>
<rect x="843.61" y="126.1" width="8.75" height="192.3" fill="#9dbcfb"/>
<rect x="843.61" y="318.4" width="8.75" height="20.5" fill="#ffcc7a"/>
<rect x="843.61" y="155" width="8.75" height="14.8" fill="#6691ef"/>
<rect x="843.61" y="215.2" width="8.75" height="2.4" fill="#6691ef"/>
<rect x="843.61" y="260" width="8.75" height="6.9" fill="#6691ef"/>
<rect x="843.61" y="286.1" width="8.75" height="5.9" fill="#ffcc7a"/>
<rect x="843.61" y="296" width="8.75" height="8.6" fill="#6691ef"/>
</g>
<g stroke="#6a6a6a" stroke-width="0.75" fill="none">
<rect x="251.6" y="8.0" width="620" height="340.1"/>
<path d="M270.6 348.1V342.1M270.6 8.0V14"/>
<path d="M367.53 348.1V342.1M367.53 8.0V14"/>
<path d="M464.46 348.1V342.1M464.46 8.0V14"/>
<path d="M561.39 348.1V342.1M561.39 8.0V14"/>
<path d="M658.32 348.1V342.1M658.32 8.0V14"/>
<path d="M755.25 348.1V342.1M755.25 8.0V14"/>
<path d="M852.18 348.1V342.1M852.18 8.0V14"/>
<path d="M251.6 38.5H257.6M871.6 38.5H865.6"/>
<path d="M251.6 100.5H257.6M871.6 100.5H865.6"/>
<path d="M251.6 162.3H257.6M871.6 162.3H865.6"/>
<path d="M251.6 224.4H257.6M871.6 224.4H865.6"/>
<path d="M251.6 286.4H257.6M871.6 286.4H865.6"/>
</g>
<g font-family="'Liberation Sans', Arial, sans-serif" font-size="5.5" fill="#444">
<text x="270.6" y="356.7" text-anchor="middle">0</text>
<text x="367.53" y="356.7" text-anchor="middle">10</text>
<text x="464.46" y="356.7" text-anchor="middle">20</text>
<text x="561.39" y="356.7" text-anchor="middle">30</text>
<text x="658.32" y="356.7" text-anchor="middle">40</text>
<text x="755.25" y="356.7" text-anchor="middle">50</text>
<text x="852.18" y="356.7" text-anchor="middle">60</text>
<text x="248.6" y="41.1" text-anchor="end">10-01-00</text>
<text x="248.6" y="103.1" text-anchor="end">08-01-00</text>
<text x="248.6" y="164.9" text-anchor="end">06-01-00</text>
<text x="248.6" y="227" text-anchor="end">03-01-00</text>
<text x="248.6" y="289" text-anchor="end">01-01-00</text>
<text x="248.6" y="350.7" text-anchor="end">22-01-00</text>
</g>
</svg>
<span class="b r" style="left:103.8px;top:383.1px">较高</span>
<span class="t" style="left:143px;top:381.5px">开始一周平均睡眠潜伏期：</span><span class="n" style="left:324.6px;top:381.5px">134.14min</span>
<span class="b g" style="left:415px;top:381.4px">正常</span>
<span class="t" style="left:448.6px;top:381.5px">最近一周平均睡眠潜伏期：</span><span class="n" style="left:637.2px;top:381.5px">39.57min</span>
<span class="t" style="left:753.1px;top:381.5px">提示目前比最开始一周更快时间入睡</span>

<span class="b g" style="left:102.4px;top:412px">正常</span>
<span class="t" style="left:143px;top:411px">开始一周平均睡眠总时长：</span><span class="n" style="left:325.2px;top:411px">491.71min</span>
<span class="b g" style="left:413.4px;top:412.3px">正常</span>
<span class="t" style="left:450.7px;top:411px">最近一周平均睡眠总时长：</span><span class="n" style="left:633px;top:411px">428.57min</span>
<span class="t" style="left:750.2px;top:411px">提示目前比最开始一周睡更少的时间</span>

<span class="b y" style="left:103.2px;top:442.9px;padding-top:0">偏低</span>
<span class="t" style="left:143px;top:441px">开始一周的平均睡眠效率：</span><span class="n" style="left:333.5px;top:441px">79.44%</span>
<span class="b g" style="left:415.5px;top:442px">正常</span>
<span class="t" style="left:453.2px;top:441px">最近一周的平均睡眠效率：</span><span class="n" style="left:636.9px;top:441px">91.75%</span>
<span class="t" style="left:747.4px;top:441px">提示比最开始一周睡眠效率更高</span>
</body>
</html>
